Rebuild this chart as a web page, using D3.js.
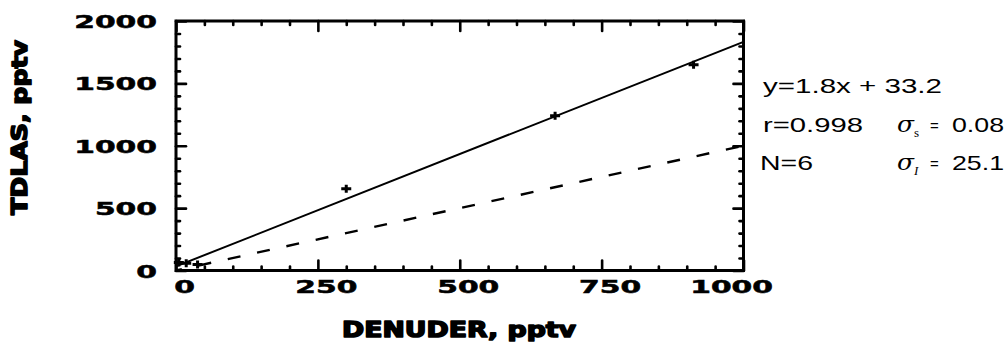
<!DOCTYPE html>
<html>
<head>
<meta charset="utf-8">
<script src="https://cdn.jsdelivr.net/npm/d3@7"></script>
<style>
  body { margin: 0; background: #fff; }
  svg { display: block; }
</style>
</head>
<body>
<svg id="chart" width="1006" height="350"></svg>
<script>
// Paired measurements: denuder vs. TDLAS (pptv)
const denuder = [5, 18, 38, 300, 668, 912];
const tdlas   = [65, 58, 48, 655, 1240, 1650];

// Least-squares fit and the 1:1 reference line
const fitSlope = 1.8;
const fitIntercept = 33.2;
const oneToOne = [0, 1000];

// Axis ticks
const xMajorTicks = [0, 250, 500, 750, 1000];
const xMinorTicks = [50, 100, 150, 200, 300, 350, 400, 450, 550, 600, 650, 700, 800, 850, 900, 950];
const yMajorTicks = [0, 500, 1000, 1500, 2000];
const yMinorTicks = [100, 200, 300, 400, 600, 700, 800, 900, 1100, 1200, 1300, 1400, 1600, 1700, 1800, 1900];

const xTitle = "DENUDER, pptv";
const yTitle = "TDLAS, pptv";

// Fit statistics
const statEquation = "y=1.8x + 33.2";
const statR = "r=0.998";
const statN = "N=6";
const sigmaSlope = "0.08";
const sigmaIntercept = "25.1";

const svg = d3.select("#chart");
const plotL = 176, plotR = 743.5, plotT = 21, plotB = 270.5;

const x = d3.scaleLinear().domain([0, 1000]).range([plotL, plotR]);
const y = d3.scaleLinear().domain([0, 2000]).range([plotB, plotT]);

// Frame
svg.append("rect")
  .attr("x", plotL).attr("y", plotT)
  .attr("width", plotR - plotL).attr("height", plotB - plotT)
  .attr("fill", "none").attr("stroke", "#000").attr("stroke-width", 3);

// Inward ticks on all four sides
function ticks(axis, transform, values, size) {
  const g = svg.append("g").attr("transform", transform)
    .call(axis.tickValues(values).tickSize(-size).tickSizeOuter(0).tickFormat(""));
  g.select(".domain").remove();
  g.selectAll(".tick line").attr("stroke", "#000").attr("stroke-width", 2.6).attr("stroke-linecap", "round");
  return g;
}
ticks(d3.axisBottom(x), `translate(0,${plotB})`, xMinorTicks, 4);
ticks(d3.axisBottom(x), `translate(0,${plotB})`, xMajorTicks, 10);
ticks(d3.axisTop(x), `translate(0,${plotT})`, xMinorTicks, 4);
ticks(d3.axisTop(x), `translate(0,${plotT})`, xMajorTicks, 10);
ticks(d3.axisLeft(y), `translate(${plotL},0)`, yMinorTicks, 4);
ticks(d3.axisLeft(y), `translate(${plotL},0)`, yMajorTicks, 10);
ticks(d3.axisRight(y), `translate(${plotR},0)`, yMinorTicks, 4);
ticks(d3.axisRight(y), `translate(${plotR},0)`, yMajorTicks, 10);

// Tick labels (wide, bold)
const labelFont = "'DejaVu Sans', sans-serif";
const gxLab = svg.append("g").attr("transform", `translate(0,${plotB})`)
  .call(d3.axisBottom(x).tickValues(xMajorTicks).tickSize(0).tickFormat(d3.format("d")));
gxLab.select(".domain").remove();
gxLab.attr("font-family", labelFont).attr("font-size", 17).attr("font-weight", "bold");
gxLab.selectAll(".tick text")
  .attr("x", 0).attr("y", 0).attr("dy", null).attr("fill", "#000")
  .attr("stroke", "#000").attr("stroke-width", 0.5)
  .attr("text-anchor", (d, i) => i === xMajorTicks.length - 1 ? "end" : "middle")
  .attr("transform", (d, i) => i === xMajorTicks.length - 1
    ? "translate(29,22) scale(1.75,1)" : "translate(8,22) scale(1.75,1)");

const gyLab = svg.append("g").attr("transform", `translate(${plotL},0)`)
  .call(d3.axisLeft(y).tickValues(yMajorTicks).tickSize(0).tickFormat(d3.format("d")));
gyLab.select(".domain").remove();
gyLab.attr("font-family", labelFont).attr("font-size", 17).attr("font-weight", "bold");
gyLab.selectAll(".tick text")
  .attr("x", 0).attr("y", 0).attr("dy", null).attr("fill", "#000")
  .attr("stroke", "#000").attr("stroke-width", 0.5)
  .attr("text-anchor", "end")
  .attr("transform", "translate(-19,6.5) scale(1.75,1)");

// Axis titles (heavy)
const titleFont = "'DejaVu Sans', sans-serif";
svg.append("text")
  .attr("x", 342).attr("y", 337)
  .attr("font-family", titleFont).attr("font-weight", "bold").attr("font-size", 22)
  .attr("stroke", "#000").attr("stroke-width", 1.6).attr("stroke-linejoin", "round")
  .attr("textLength", 234).attr("lengthAdjust", "spacingAndGlyphs")
  .text(xTitle);
svg.append("text")
  .attr("transform", "translate(27,215) rotate(-90)")
  .attr("font-family", titleFont).attr("font-weight", "bold").attr("font-size", 22)
  .attr("stroke", "#000").attr("stroke-width", 1.6).attr("stroke-linejoin", "round")
  .attr("textLength", 175).attr("lengthAdjust", "spacingAndGlyphs")
  .text(yTitle);

// Plot lines
const line = d3.line().x(d => x(d[0])).y(d => y(d[1]));
svg.append("path")
  .datum(oneToOne.map(v => [v, v]))
  .attr("d", line)
  .attr("fill", "none").attr("stroke", "#000").attr("stroke-width", 2.4)
  .attr("stroke-dasharray", "13,17").attr("stroke-dashoffset", 7);
svg.append("path")
  .datum(oneToOne.map(v => [v, fitIntercept + fitSlope * v]))
  .attr("d", line)
  .attr("fill", "none").attr("stroke", "#000").attr("stroke-width", 2);

// Data markers
svg.append("g").selectAll("path")
  .data(denuder.map((d, i) => [d, tdlas[i]]))
  .join("path")
  .attr("d", d => {
    const px = x(d[0]), py = y(d[1]);
    return `M${px - 5},${py}H${px + 5}M${px},${py - 4}V${py + 4}`;
  })
  .attr("stroke", "#000").attr("stroke-width", 3).attr("fill", "none");

// Fit statistics
const statFont = "'Liberation Sans', Arial, sans-serif";
const stats = svg.append("g").attr("font-family", statFont).attr("font-size", 21).attr("fill", "#000");
stats.append("text").attr("x", 763).attr("y", 93)
  .attr("textLength", 179).attr("lengthAdjust", "spacingAndGlyphs").text(statEquation);
stats.append("text").attr("x", 763).attr("y", 132)
  .attr("textLength", 100).attr("lengthAdjust", "spacingAndGlyphs").text(statR);
stats.append("text").attr("x", 760).attr("y", 170)
  .attr("textLength", 53).attr("lengthAdjust", "spacingAndGlyphs").text(statN);

function sigmaRow(yBase, sub, value, subItalic) {
  stats.append("text").attr("x", 897).attr("y", yBase)
    .attr("font-family", "'DejaVu Serif', serif").attr("font-style", "italic")
    .attr("font-size", 22).attr("textLength", 17).attr("lengthAdjust", "spacingAndGlyphs").text("σ");
  stats.append("text").attr("x", 914).attr("y", yBase + 5)
    .attr("font-family", "'Liberation Serif', serif").attr("font-style", subItalic ? "italic" : "normal")
    .attr("font-size", 13).text(sub);
  stats.append("text").attr("x", 930).attr("y", yBase - 1)
    .attr("font-size", 15).text("=");
  stats.append("text").attr("x", 952).attr("y", yBase)
    .attr("textLength", 52).attr("lengthAdjust", "spacingAndGlyphs").text(value);
}
sigmaRow(132, "s", sigmaSlope, false);
sigmaRow(170, "I", sigmaIntercept, true);
</script>
</body>
</html>
